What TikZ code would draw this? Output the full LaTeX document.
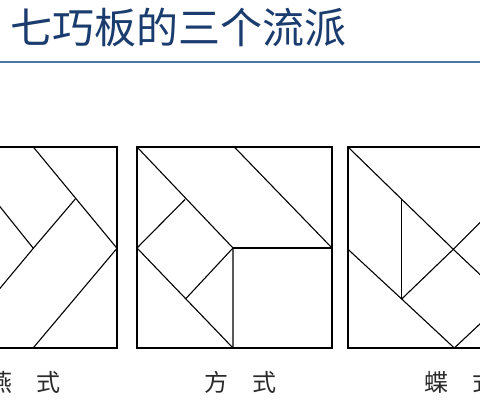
\documentclass[tikz,border=0pt]{standalone}
\usepackage{fontspec}
\newfontfamily\cjk{Noto Sans CJK SC}
\definecolor{titleblue}{HTML}{1B3C6E}
\definecolor{rulecol}{HTML}{4C77A5}
\definecolor{labcol}{HTML}{2A2A2A}
\tikzset{
  titletext/.style={font=\cjk\fontsize{42}{50}\selectfont, text=titleblue, inner sep=0pt, anchor=base west},
  labtext/.style={font=\cjk\fontsize{24}{28}\selectfont, text=labcol, inner sep=0pt, anchor=base west},
  boxline/.style={draw=black, line width=1.4pt},
  pieceline/.style={draw=black, line width=1.1pt},
  ruleline/.style={draw=rulecol, line width=1.5pt}
}
\begin{document}
\begin{tikzpicture}[x=1pt,y=-1pt,line join=miter]
\useasboundingbox (0,0) rectangle (480,404);
\fill[white] (0,0) rectangle (480,404);
\clip (0,0) rectangle (480,404);
% title and rule
\node[titletext] (title) at (10,44) {七巧板的三个流派};
\coordinate (ruleL) at (0,62);
\coordinate (ruleR) at (480,62);
\draw[ruleline] (ruleL) -- (ruleR);
% square 1 (swallow)
\draw[boxline] (-80,147) rectangle (117,348);
\draw[pieceline] (33.3,147) -- (117,248.3) -- (33.3,347.8);
\draw[pieceline] (75.3,199) -- (33.3,248.3) -- (-5,294.3);
\draw[pieceline] (-5,200.5) -- (33.3,248.3);
% square 2 (square style)
\draw[boxline] (137,147) rectangle (332,348);
\draw[pieceline] (137,147) -- (233,248) -- (233,348);
\draw[pieceline] (233,248) -- (332,248);
\draw[pieceline] (234.3,147) -- (332,248);
\draw[pieceline] (137,248) -- (233,348);
\draw[pieceline] (137,248) -- (185,199.5);
\draw[pieceline] (185.5,299) -- (233,248);
% square 3 (butterfly)
\draw[boxline] (348,147) rectangle (560,348);
\draw[pieceline] (348,147) -- (401.7,199.3) -- (453.3,249.3) -- (490,284);
\draw[pieceline] (401.7,199.3) -- (401.7,299);
\draw[pieceline] (348,249.3) -- (401.7,299) -- (454.3,348) -- (490,314.5);
\draw[pieceline] (401.7,299) -- (453.3,249.3) -- (490,212.6);
% labels
\node[labtext] (lab1) at (-12,391) {燕　式};
\node[labtext] (lab2) at (204.5,391) {方　式};
\node[labtext] (lab3) at (424,391) {蝶　式};
\end{tikzpicture}
\end{document}
